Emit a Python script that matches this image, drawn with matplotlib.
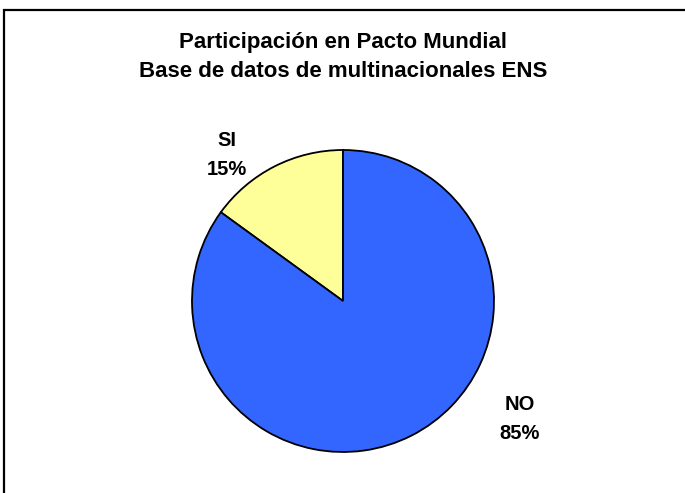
import matplotlib
matplotlib.use("Agg")
import matplotlib.pyplot as plt
from matplotlib.patches import Rectangle

plt.rcParams["font.family"] = ["Liberation Sans", "DejaVu Sans"]

categories = ["SI", "NO"]
shares = [15, 85]
colors = ["#FFFF99", "#3366FF"]
title = "Participación en Pacto Mundial\nBase de datos de multinacionales ENS"

fig = plt.figure(figsize=(6.85, 4.93), dpi=100)
fig.patch.set_facecolor("white")

# chart-area border (runs off the right and bottom edges)
fig.patches.append(Rectangle((4 / 685, -0.1), 1.2, (493 - 10) / 493 + 0.1,
                             transform=fig.transFigure, fill=False,
                             edgecolor="black", linewidth=1.6))

r_w = 2 * 151 / 685
r_h = 2 * 151 / 493
cx, cy = 343 / 685, (493 - 301) / 493
ax = fig.add_axes([cx - r_w / 2, cy - r_h / 2, r_w, r_h])
ax.pie(shares, colors=colors, startangle=90, counterclock=True,
       wedgeprops=dict(edgecolor="black", linewidth=1.3))
ax.set_xlim(-1, 1)
ax.set_ylim(-1, 1)
ax.set_aspect("equal")
ax.axis("off")

label_pos = {"SI": (-0.768, 0.965), "NO": (1.172, -0.78)}
for cat, val in zip(categories, shares):
    x, y = label_pos[cat]
    ax.text(x, y, f"{cat}\n{val}%", ha="center", va="center",
            fontsize=14.5, fontweight="bold", linespacing=1.65, clip_on=False)

fig.text(343 / 685, 1 - 57 / 493, title, ha="center", va="center",
         fontsize=16, fontweight="bold", linespacing=1.5)

fig.savefig("out.png", dpi=100)
